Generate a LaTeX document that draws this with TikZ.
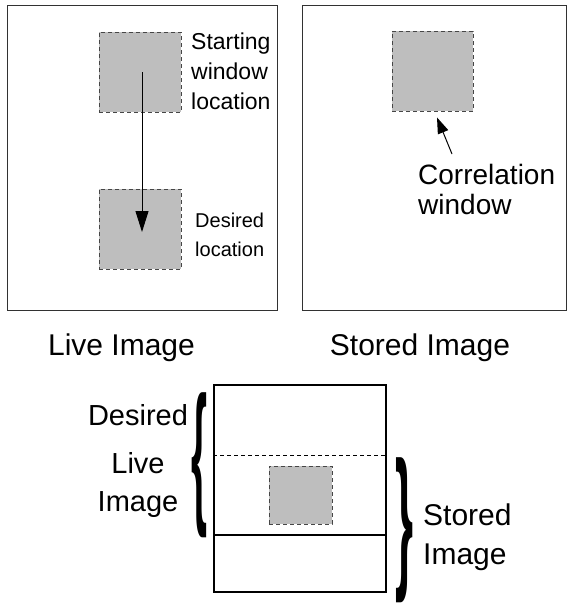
\documentclass[tikz,border=0pt]{standalone}
\usepackage{fontspec}
\setmainfont{Liberation Sans}
\usetikzlibrary{arrows.meta}
\definecolor{winfill}{RGB}{190,190,190}
\definecolor{windash}{RGB}{70,70,70}
\definecolor{frame}{RGB}{50,50,50}
\tikzset{
  frame box/.style={draw=frame, line width=1pt, inner sep=0pt, rectangle},
  win box/.style={draw=windash, fill=winfill, dash pattern=on 4pt off 3pt, line width=0.9pt, inner sep=0pt, rectangle},
  strip box/.style={draw=black, line width=1.8pt, inner sep=0pt, rectangle},
  label text/.style={inner sep=0pt, text=black},
  brace glyph/.style={inner sep=0pt, outer sep=0pt, font=\bfseries}
}
\begin{document}
\begin{tikzpicture}[x=1pt,y=-1pt]
\useasboundingbox (0,0) rectangle (567,603);
% top frames
\node[frame box, minimum width=270pt, minimum height=305pt] (live) at (142,157.5) {};
\node[frame box, minimum width=264pt, minimum height=305pt] (stored) at (434,157.5) {};
% windows
\node[win box, minimum width=82pt, minimum height=80pt] (start) at (140,72) {};
\node[win box, minimum width=82pt, minimum height=80pt] (desired) at (140,229) {};
\node[win box, minimum width=81pt, minimum height=80pt] (corrwin) at (432.5,71) {};
% texts in frames
\node[label text, anchor=north west, align=left, font=\fontsize{23}{30}\selectfont] (starttxt) at (191,33) {Starting\\window\\location};
\node[label text, anchor=north west, align=left, font=\fontsize{20}{29}\selectfont] (destxt) at (195,213) {Desired\\location};
\node[label text, anchor=north west, align=left, font=\fontsize{28}{30}\selectfont] (corrtxt) at (418,164) {Correlation\\window};
% arrows
\draw[line width=1pt, -{Triangle[length=21pt,width=13pt]}] ([xshift=2pt]start.center) -- ([xshift=2pt,yshift=-3pt]desired.center);
\draw[line width=1pt, -{Triangle[length=16pt,width=11pt]}] ([xshift=34pt,yshift=10pt]corrtxt.north west) -- ([xshift=4.5pt,yshift=-6pt]corrwin.south);
% captions
\node[label text, anchor=base, font=\fontsize{30}{36}\selectfont] (livecap) at (121.5,355) {Live Image};
\node[label text, anchor=base, font=\fontsize{30}{36}\selectfont] (storedcap) at (420,355) {Stored Image};
% bottom strip
\node[strip box, minimum width=172pt, minimum height=207pt] (strip) at (300,488.5) {};
\coordinate (midL) at (strip.west |- 0,535);
\coordinate (midR) at (strip.east |- 0,535);
\coordinate (dashL) at (strip.west |- 0,455);
\coordinate (dashR) at (strip.east |- 0,455);
\draw[line width=1.8pt] (midL) -- (midR);
\draw[line width=0.9pt, dash pattern=on 4pt off 3pt] (dashL) -- (dashR);
\node[win box, minimum width=63pt, minimum height=58pt] (overlap) at (300.5,495) {};
% braces
\node[brace glyph] (lbrace) at (199.5,465) {\resizebox*{16pt}{145pt}{\{}};
\node[brace glyph] (rbrace) at (404,530) {\resizebox*{18pt}{145pt}{\}}};
% brace labels
\node[label text, anchor=north, align=center, font=\fontsize{29}{38}\selectfont] (livelbl) at (138,404) {Desired\\[10pt]Live\\Image};
\node[label text, anchor=north west, align=left, font=\fontsize{30}{39}\selectfont] (storedlbl) at (423,504) {Stored\\Image};
\end{tikzpicture}
\end{document}
